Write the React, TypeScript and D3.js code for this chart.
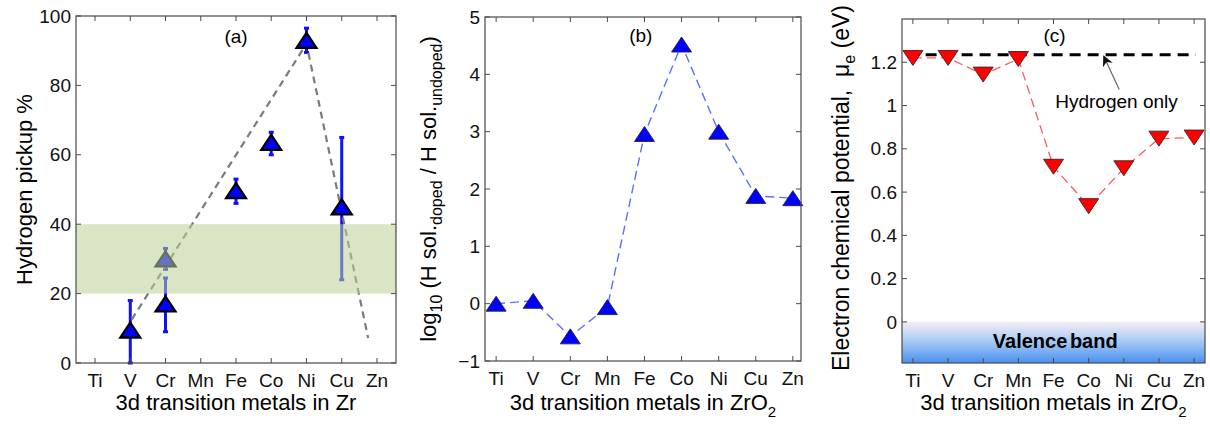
import React from "react";
import * as d3 from "d3";

const metals = ["Ti", "V", "Cr", "Mn", "Fe", "Co", "Ni", "Cu", "Zn"];

// Panel (a): hydrogen pickup in Zr alloys
const pickupMetals = ["V", "Cr", "Cr", "Fe", "Co", "Ni", "Cu"];
const pickupValues = [9.5, 17, 30, 49.7, 63.6, 93, 45];
const pickupLow = [0, 9, 27, 46, 60, 89.5, 24];
const pickupHigh = [18, 24.5, 33, 53, 66.5, 96.5, 65];
const trendX = [2.04, 7, 8.75];
const trendY = [12.5, 92, 7.2];
const bandRange = [20, 40];
const pickupTicks = [0, 20, 40, 60, 80, 100];

// Panel (b): log10 solubility ratio in ZrO2
const solubility = [0, 0.05, -0.57, -0.06, 2.96, 4.52, 3.0, 1.88, 1.84];
const solTicks = [-1, 0, 1, 2, 3, 4, 5];

// Panel (c): electron chemical potential
const potential = [1.22, 1.22, 1.143, 1.215, 0.717, 0.535, 0.71, 0.847, 0.852];
const hydrogenOnly = 1.235;
const hydrogenSpan = [0.85, 9.05];
const potTicks = [0, 0.2, 0.4, 0.6, 0.8, 1, 1.2];

const FONT = "'Liberation Sans', Arial, Helvetica, sans-serif";
const AX = "#4a4a4a";

type Scales = { x: d3.ScaleLinear<number, number>; y: d3.ScaleLinear<number, number> };

function Frame({ x, y, yTicks, fmt }: Scales & { yTicks: number[]; fmt: (v: number) => string }) {
  const [x0, x1] = x.range();
  const [y0, y1] = y.range(); // y0 bottom, y1 top
  const tl = 5;
  return (
    <g>
      {metals.map((m, i) => (
        <g key={m}>
          <line x1={x(i + 1)} x2={x(i + 1)} y1={y0} y2={y0 - tl} stroke={AX} />
          <line x1={x(i + 1)} x2={x(i + 1)} y1={y1} y2={y1 + tl} stroke={AX} />
          <text x={x(i + 1)} y={y0 + 24} textAnchor="middle" fontSize={19} fill="#111">
            {m}
          </text>
        </g>
      ))}
      {yTicks.map((t) => (
        <g key={t}>
          <line x1={x0} x2={x0 + tl} y1={y(t)} y2={y(t)} stroke={AX} />
          <line x1={x1} x2={x1 - tl} y1={y(t)} y2={y(t)} stroke={AX} />
          <text x={x0 - 5} y={y(t)} dy="0.35em" textAnchor="end" fontSize={19} fill="#111">
            {fmt(t)}
          </text>
        </g>
      ))}
      <rect x={x0} y={y1} width={x1 - x0} height={y0 - y1} fill="none" stroke={AX} strokeWidth={1.2} />
    </g>
  );
}

const upTri = "M-10,7.5 L10,7.5 L0,-7.5 Z";
const downTri = "M-10,-7.5 L10,-7.5 L0,7.5 Z";

export default function App() {
  // ---------- panel a ----------
  const xa = d3.scaleLinear().domain([0.46, 9.54]).range([76, 396]);
  const ya = d3.scaleLinear().domain([0, 100]).range([363, 16]);
  const idx = (m: string) => metals.indexOf(m) + 1;
  const trendLine = d3
    .line<number>()
    .x((_, i) => xa(trendX[i]))
    .y((d) => ya(d))(trendY);

  // ---------- panel b ----------
  const xb = d3.scaleLinear().domain([0.7, 9.22]).range([485, 801]);
  const yb = d3.scaleLinear().domain([-1, 5]).range([361, 17]);
  const solLine = d3
    .line<number>()
    .x((_, i) => xb(i + 1))
    .y((d) => yb(d))(solubility);

  // ---------- panel c ----------
  const xc = d3.scaleLinear().domain([0.69, 9.31]).range([902, 1205]);
  const yc = d3.scaleLinear().domain([-0.19, 1.4]).range([363, 19]);
  const potLine = d3
    .line<number>()
    .x((_, i) => xc(i + 1))
    .y((d) => yc(d))(potential);

  const fmtInt = (v: number) => (v < 0 ? "\u2212" + Math.abs(v) : String(v));
  const fmtDec = (v: number) => (v === 0 ? "0" : v === 1 ? "1" : d3.format(".1f")(v));

  return (
    <svg
      width={1210}
      height={424}
      style={{ position: "absolute", left: 0, top: 0, background: "#fff" }}
      fontFamily={FONT}
    >
      <defs>
        <linearGradient id="vb" x1="0" y1="0" x2="0" y2="1">
          <stop offset="0" stopColor="#f6ecf6" />
          <stop offset="0.45" stopColor="#a9cdf4" />
          <stop offset="1" stopColor="#4b8ff0" />
        </linearGradient>
        <marker id="arr" viewBox="0 0 10 10" refX="9" refY="5" markerWidth="9" markerHeight="9" orient="auto">
          <path d="M0,0 L10,5 L0,10 L3,5 Z" fill="#111" />
        </marker>
      </defs>

      {/* ================= Panel (a) ================= */}
      <g>
        {pickupMetals.map((m, i) => {
          const cx = xa(idx(m));
          return (
            <g key={"eb" + i}>
              <line x1={cx} x2={cx} y1={ya(pickupLow[i])} y2={ya(pickupHigh[i])} stroke="#1010ff" strokeWidth={3} />
              <line x1={cx - 2.5} x2={cx + 2.5} y1={ya(pickupLow[i])} y2={ya(pickupLow[i])} stroke="#1010ff" strokeWidth={3} />
              <line x1={cx - 2.5} x2={cx + 2.5} y1={ya(pickupHigh[i])} y2={ya(pickupHigh[i])} stroke="#1010ff" strokeWidth={3} />
            </g>
          );
        })}
        <path d={trendLine || ""} fill="none" stroke="#7a7a7a" strokeWidth={2.2} strokeDasharray="7,5" />
        {pickupMetals.map((m, i) => (
          <path
            key={"mk" + i}
            d={upTri}
            transform={`translate(${xa(idx(m))},${ya(pickupValues[i])})`}
            fill="#0000ff"
            stroke="#000"
            strokeWidth={2.2}
            strokeLinejoin="miter"
          />
        ))}
        <rect
          x={xa.range()[0]}
          width={xa.range()[1] - xa.range()[0]}
          y={ya(bandRange[1])}
          height={ya(bandRange[0]) - ya(bandRange[1])}
          fill="rgb(185,207,148)"
          fillOpacity={0.55}
        />
        <Frame x={xa} y={ya} yTicks={pickupTicks} fmt={fmtInt} />
        <text x={xa(5)} y={43} textAnchor="middle" fontSize={19}>(a)</text>
        <text x={(76 + 396) / 2} y={410} textAnchor="middle" fontSize={22}>
          3d transition metals in Zr
        </text>
        <text transform={`translate(32,${(16 + 363) / 2}) rotate(-90)`} textAnchor="middle" fontSize={22}>
          Hydrogen pickup %
        </text>
      </g>

      {/* ================= Panel (b) ================= */}
      <g>
        <path d={solLine || ""} fill="none" stroke="#5f6dff" strokeWidth={1.4} strokeDasharray="9,5" />
        {solubility.map((v, i) => (
          <path
            key={"b" + i}
            d={upTri}
            transform={`translate(${xb(i + 1)},${yb(v)})`}
            fill="#0000ff"
            stroke="#202040"
            strokeWidth={0.9}
          />
        ))}
        <Frame x={xb} y={yb} yTicks={solTicks} fmt={fmtInt} />
        <text x={xb(4.9)} y={42} textAnchor="middle" fontSize={19}>(b)</text>
        <text x={(485 + 801) / 2} y={410} textAnchor="middle" fontSize={22}>
          3d transition metals in ZrO<tspan dy={7} fontSize={15}>2</tspan>
        </text>
        <text transform={`translate(436,${(17 + 361) / 2}) rotate(-90)`} textAnchor="middle" fontSize={22}>
          log<tspan dy={6} fontSize={16}>10</tspan>
          <tspan dy={-6}> (H sol.</tspan>
          <tspan dy={6} fontSize={16}>doped</tspan>
          <tspan dy={-6}> / H sol.</tspan>
          <tspan dy={6} fontSize={16}>undoped</tspan>
          <tspan dy={-6}>)</tspan>
        </text>
      </g>

      {/* ================= Panel (c) ================= */}
      <g>
        <rect
          x={xc.range()[0]}
          width={xc.range()[1] - xc.range()[0]}
          y={yc(0)}
          height={yc(-0.19) - yc(0)}
          fill="url(#vb)"
        />
        <text x={xc(5.05)} y={yc(-0.12)} textAnchor="middle" fontSize={20} fontWeight="bold" wordSpacing={-3}>
          Valence band
        </text>
        <line
          x1={xc(hydrogenSpan[0])}
          x2={xc(hydrogenSpan[1])}
          y1={yc(hydrogenOnly)}
          y2={yc(hydrogenOnly)}
          stroke="#000"
          strokeWidth={3}
          strokeDasharray="11,7"
        />
        <path d={potLine || ""} fill="none" stroke="#ff5a5a" strokeWidth={1.3} strokeDasharray="9,5" />
        {potential.map((v, i) => (
          <path
            key={"c" + i}
            d={downTri}
            transform={`translate(${xc(i + 1)},${yc(v)})`}
            fill="#ff0000"
            stroke="#402020"
            strokeWidth={0.9}
          />
        ))}
        <line
          x1={xc(6.87)}
          y1={yc(1.074)}
          x2={xc(6.43)}
          y2={yc(1.228)}
          stroke="#666"
          strokeWidth={1.2}
          markerEnd="url(#arr)"
        />
        <text x={xc(5.05)} y={yc(0.99)} fontSize={19}>Hydrogen only</text>
        <Frame x={xc} y={yc} yTicks={potTicks} fmt={fmtDec} />
        <text x={xc(5.03)} y={42} textAnchor="middle" fontSize={19}>(c)</text>
        <text x={(902 + 1205) / 2} y={410} textAnchor="middle" fontSize={22}>
          3d transition metals in ZrO<tspan dy={7} fontSize={15}>2</tspan>
        </text>
        <text transform={`translate(849,${(19 + 363) / 2 - 3}) rotate(-90)`} textAnchor="middle" fontSize={23}>
          Electron chemical potential,{"\u00a0\u00a0"}μ<tspan dy={6} fontSize={16}>e</tspan>
          <tspan dy={-6}> (eV)</tspan>
        </text>
      </g>
    </svg>
  );
}
